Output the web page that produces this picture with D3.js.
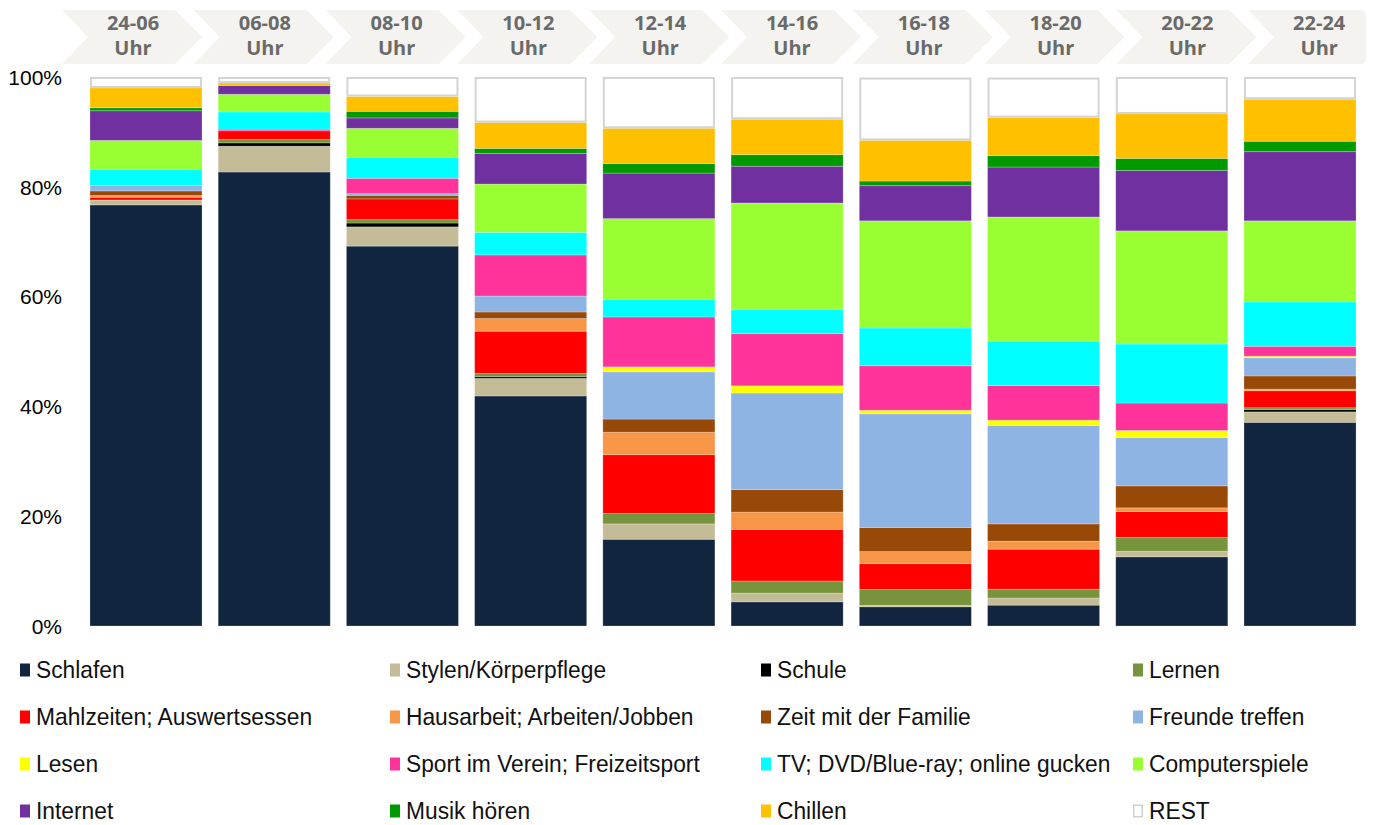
<!DOCTYPE html>
<html>
<head>
<meta charset="utf-8">
<script src="https://cdn.jsdelivr.net/npm/d3@7"></script>
<style>
  html, body { margin: 0; padding: 0; background: #fff; }
  svg { display: block; }
</style>
</head>
<body>
<svg id="chart" width="1373" height="825"></svg>
<script>
// Time slots (x categories)
const slots = ["24-06", "06-08", "08-10", "10-12", "12-14", "14-16", "16-18", "18-20", "20-22", "22-24"];

// Activities, stacked bottom to top
const activities = [
  "Schlafen", "Stylen/Körperpflege", "Schule", "Lernen",
  "Mahlzeiten; Auswertsessen", "Hausarbeit; Arbeiten/Jobben", "Zeit mit der Familie", "Freunde treffen",
  "Lesen", "Sport im Verein; Freizeitsport", "TV; DVD/Blue-ray; online gucken", "Computerspiele",
  "Internet", "Musik hören", "Chillen", "REST"
];

// Share of each activity (percent) per time slot, same order as activities
const v_24_06 = [76.7, 0.9, 0, 0, 0.5, 0.3, 0.85, 1.0, 0, 0, 2.9, 5.3, 5.4, 0.55, 3.6, 2.0];
const v_06_08 = [82.7, 4.7, 0.6, 0.6, 1.6, 0, 0, 0, 0, 0.3, 3.15, 3.2, 1.6, 0, 0.45, 1.1];
const v_08_10 = [69.2, 3.5, 0.7, 0.6, 3.8, 0, 0.65, 0.3, 0, 2.8, 3.8, 5.3, 1.9, 1.2, 2.7, 3.55];
const v_10_12 = [41.9, 3.2, 0.3, 0.6, 7.7, 2.3, 1.2, 2.9, 0, 7.5, 4.1, 8.8, 5.6, 0.9, 4.7, 8.3];
const v_12_14 = [15.8, 2.8, 0, 1.9, 10.7, 4.1, 2.4, 8.6, 0.9, 9.1, 3.2, 14.7, 8.3, 1.75, 6.4, 9.35];
const v_14_16 = [4.4, 1.6, 0, 2.2, 9.4, 3.15, 4.1, 17.6, 1.3, 9.5, 4.4, 19.4, 6.7, 2.1, 6.45, 7.7];
const v_16_18 = [3.5, 0.25, 0, 2.9, 4.7, 2.2, 4.4, 20.7, 0.65, 8.1, 6.9, 19.5, 6.4, 0.85, 7.4, 11.45];
const v_18_20 = [3.8, 1.3, 0, 1.6, 7.3, 1.45, 3.15, 17.9, 1.0, 6.3, 8.1, 22.6, 9.1, 2.1, 6.9, 7.3];
const v_20_22 = [12.6, 1.0, 0, 2.55, 4.7, 0.67, 4.0, 8.8, 1.3, 5.0, 10.75, 20.6, 11.0, 2.2, 8.1, 6.73];
const v_22_24 = [37.1, 1.9, 0.45, 0.3, 3.1, 0.3, 2.4, 3.3, 0.3, 1.8, 8.1, 14.75, 12.6, 1.9, 7.65, 4.05];

const slotValues = [v_24_06, v_06_08, v_08_10, v_10_12, v_12_14, v_14_16, v_16_18, v_18_20, v_20_22, v_22_24];

const yTicks = [0, 20, 40, 60, 80, 100];

const colors = [
  "#12253f", "#c4bc96", "#000000", "#77933c",
  "#ff0000", "#f79646", "#984807", "#8eb4e3",
  "#ffff00", "#ff3399", "#00ffff", "#99ff33",
  "#7030a0", "#009900", "#ffc000", "#ffffff"
];

// Build rows for d3.stack
const rows = slots.map((s, i) => {
  const r = { slot: s };
  activities.forEach((a, j) => { r[a] = slotValues[i][j]; });
  return r;
});

const svg = d3.select("#chart");

const x = d3.scaleBand().domain(slots).range([73.8, 1372.2]).padding(0.126);
const y = d3.scaleLinear().domain([0, 100]).range([626, 77]);
const color = d3.scaleOrdinal().domain(activities).range(colors);

// Header chevrons
const header = d3.scaleBand().domain(slots).range([62, 62 + 131.8 * slots.length]).padding(0);
const hTop = 10, hBot = 64, hMid = (hTop + hBot) / 2;
const g0 = svg.append("g");
slots.forEach((s, i) => {
  const x0 = header(s);
  let p;
  if (i < slots.length - 1) {
    p = `M${x0},${hTop} L${x0 + 113},${hTop} L${x0 + 140},${hMid} L${x0 + 113},${hBot} L${x0},${hBot} L${x0 + 26},${hMid} Z`;
  } else {
    const xr = 1366;
    p = `M${x0},${hTop} L${xr - 6},${hTop} Q${xr},${hTop} ${xr},${hTop + 6} L${xr},${hBot - 6} Q${xr},${hBot} ${xr - 6},${hBot} L${x0},${hBot} L${x0 + 26},${hMid} Z`;
  }
  g0.append("path").attr("d", p).attr("fill", "#f4f3ef");
  const t = g0.append("text")
    .attr("x", x0 + 71)
    .attr("text-anchor", "middle")
    .attr("font-family", "'Open Sans', sans-serif")
    .attr("font-weight", 700)
    .attr("font-size", 20)
    .attr("fill", "#6a6a6a");
  t.append("tspan").attr("x", x0 + 71).attr("y", 30).text(s);
  t.append("tspan").attr("x", x0 + 71).attr("y", 55).text("Uhr");
});

// Stacked bars
const series = d3.stack().keys(activities)(rows);
const gBars = svg.append("g");
series.forEach(ser => {
  const isRest = ser.key === "REST";
  gBars.append("g")
    .selectAll("rect")
    .data(ser.filter(d => d[1] - d[0] > 0))
    .join("rect")
    .attr("x", d => x(d.data.slot) + (isRest ? 1 : 0))
    .attr("width", x.bandwidth() - (isRest ? 2 : 0))
    .attr("y", d => y(d[1]) + (isRest ? 1 : 0))
    .attr("height", d => Math.max(0, y(d[0]) - y(d[1]) - (isRest ? 2 : 0)))
    .attr("fill", color(ser.key))
    .attr("stroke", isRest ? "#d4d4d4" : "rgba(255,255,255,0.3)")
    .attr("stroke-width", isRest ? 2 : 0.8);
});

// Y axis
const yAxis = d3.axisLeft(y).tickValues(yTicks).tickFormat(d => d + "%").tickSize(0).tickPadding(0);
const ga = svg.append("g").attr("transform", "translate(62,0)").call(yAxis);
ga.select(".domain").remove();
ga.selectAll("text")
  .attr("font-family", "'Liberation Sans', Arial, sans-serif")
  .attr("font-size", 21)
  .attr("fill", "#000")
  .attr("dy", "0.35em");

// Legend (4 columns, row-major)
const legX = [20, 390, 761, 1133];
const legY = [670, 717, 764, 811];
const gl = svg.append("g");
activities.forEach((a, k) => {
  const cx = legX[k % 4], cy = legY[Math.floor(k / 4)];
  const isRest = a === "REST";
  gl.append("rect")
    .attr("x", cx + (isRest ? 0.75 : 0)).attr("y", cy - 6.5 + (isRest ? 0.75 : 0))
    .attr("width", isRest ? 8.5 : 10).attr("height", isRest ? 11.5 : 13)
    .attr("fill", color(a))
    .attr("stroke", isRest ? "#d0d0d0" : "none")
    .attr("stroke-width", isRest ? 1.5 : 0);
  gl.append("text")
    .attr("transform", `translate(${cx + 16},${cy}) scale(0.95,1)`)
    .attr("dy", "0.35em")
    .attr("font-family", "'Liberation Sans', Arial, sans-serif")
    .attr("font-size", 24)
    .attr("fill", "#111")
    .text(a);
});
</script>
</body>
</html>
